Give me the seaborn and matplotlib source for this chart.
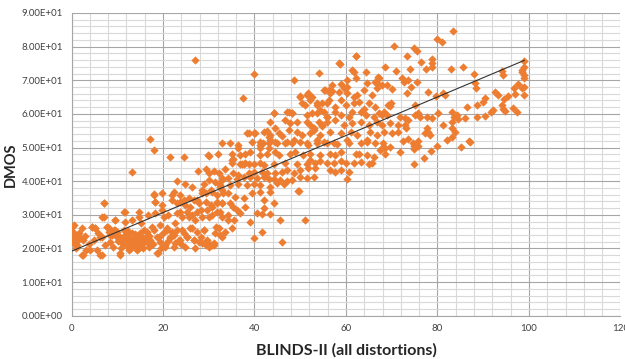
import numpy as np
import pandas as pd
import matplotlib
matplotlib.use("Agg")
import matplotlib.pyplot as plt
from matplotlib.ticker import MultipleLocator, FuncFormatter
import seaborn as sns

# scores, grouped by region (BLINDS-II, DMOS)
pts_low_left = [
    (0.1, 22), (0.5, 24), (0.6, 27), (1.9, 23), (1.0, 21), (2.5, 17.9), (2.3, 26), (3.2, 19.5),
    (4.1, 19.5), (4.5, 26.5), (5.2, 26), (5.6, 19.5), (6.3, 23.5), (6.7, 18), (7.0, 29.4),
    (7.2, 33.4), (7.8, 26.5), (8.1, 25), (8.5, 24), (9.2, 25.5), (9.6, 28.5), (9.9, 23.5),
    (10.7, 18.5), (11.4, 25.5), (11.8, 30.9), (12.1, 23.5), (12.5, 22), (12.9, 20.5),
    (13.2, 24.5), (13.6, 23), (14.0, 21), (14.3, 19.5), (14.7, 29.4), (15.1, 27.5), (15.4, 23.5),
    (15.8, 22), (16.5, 25), (16.9, 20.5), (17.6, 26.5), (18.0, 35.9), (18.3, 33.9), (18.7, 18.5),
    (19.1, 23.5), (19.4, 27), (20.2, 29.4), (20.5, 21), (20.9, 25.5), (21.6, 23.5), (22.0, 35.9),
    (22.4, 20.5), (22.7, 27.5), (23.1, 33.4), (23.4, 22.5), (23.8, 30.9), (24.2, 25.5),
    (24.5, 34.4), (24.9, 20.5), (25.3, 23.5), (25.6, 29.4), (26.0, 32.4), (26.4, 26), (26.7, 22.5),
    (27.1, 28.5), (27.5, 34.4), (27.8, 22), (28.2, 31.4), (28.6, 36.4), (28.9, 25.5), (29.3, 21),
    (29.7, 22), (30.0, 29.4), (30.4, 37.4), (30.8, 32.4), (31.1, 21), (31.5, 26.5), (31.8, 33.4),
    (32.2, 39.3), (0.2, 26.5), (0.3, 21.8), (0.8, 23.5), (1.2, 21), (1.5, 22.5), (2.6, 22.5),
    (4.4, 26.5), (5.2, 26), (5.9, 24.5), (6.6, 23.5), (7.7, 26.5), (8.1, 26), (8.5, 25), (8.8, 24),
    (9.5, 25.5), (10.6, 23.5), (11.4, 22.5), (12.1, 24.5), (12.5, 23), (12.8, 22), (13.2, 21),
    (13.9, 23.5), (14.3, 22.5), (15.0, 24.5), (15.4, 21.5), (16.1, 23), (16.8, 24), (17.2, 22.5),
    (18.0, 25.5), (18.7, 23.5), (19.4, 22), (20.1, 24.5), (20.9, 26), (21.6, 23), (22.3, 24),
    (23.1, 25.5), (23.8, 22.5), (24.5, 24.5), (25.2, 23.5), (26.0, 26), (26.7, 22.5), (27.4, 25),
    (28.2, 23.5), (28.9, 25.5), (29.6, 22.5), (30.7, 21), (31.4, 24.5), (32.2, 26), (32.9, 23.5),
    (2.2, 18), (6.3, 18), (10.6, 18), (12.5, 19.5), (14.7, 20), (19.0, 18.5), (20.5, 20.5),
    (22.7, 21.5), (27.1, 20), (28.5, 21.5), (30.0, 20.5), (31.1, 21.5), (11.0, 21.5),
    (12.0, 21.0), (13.0, 20.0), (14.5, 23.8), (10.2, 22.2), (11.7, 24.0), (15.8, 25.6),
    (0.4, 25.0), (0.9, 20.2), (1.6, 24.6), (3.0, 23.8), (3.8, 21.2), (5.0, 22.4), (7.4, 21.0),
    (8.4, 22.0), (9.0, 20.4), (10.0, 24.8), (10.8, 20.0), (11.2, 23.2), (12.4, 25.2),
    (13.4, 22.2), (13.8, 24.4), (14.2, 20.8), (14.8, 22.0), (15.6, 20.2), (16.4, 21.8),
    (17.0, 23.8), (17.8, 21.2), (19.6, 20.2), (21.2, 22.2), (22.0, 25.0), (24.0, 21.4),
]

pts_mid_left = [
    (6.6, 29.4), (9.5, 28.4), (11.7, 27.9), (13.2, 28.4), (11.5, 30.9), (7.1, 33.4),
    (14.7, 30.9), (16.8, 29.9), (18.3, 30.4), (19.8, 31.4), (21.2, 29.9), (23.1, 30.4),
    (24.1, 29.4), (25.2, 30.9), (26.3, 29.9), (27.4, 30.9), (28.5, 29.4), (29.6, 31.4),
    (30.7, 29.9), (31.8, 30.9), (32.9, 29.4), (18.3, 33.9), (19.8, 32.9), (22.0, 34.4),
    (23.8, 33.9), (24.9, 32.9), (26.7, 34.4), (27.8, 33.4), (29.3, 33.9), (30.4, 32.9),
    (31.8, 33.9), (32.9, 33.4), (18.0, 36.2), (19.8, 36.4), (22.3, 36.9), (23.8, 35.9),
    (25.6, 34.9), (28.5, 37.3), (29.3, 36.4), (30.7, 36.9), (31.8, 35.9), (32.9, 37.3),
    (23.1, 40.1), (24.9, 39.3), (26.3, 38.3), (28.9, 39.3), (30.0, 40.3), (31.4, 39.8),
    (32.5, 38.8), (32.9, 40.8), (27.6, 43.0), (29.3, 43.5), (30.0, 42.5), (31.1, 43.1),
    (32.2, 42.3), (30.1, 47.4), (32.0, 48.0), (29.9, 47.9), (13.2, 42.6), (17.2, 52.4),
    (18.0, 49.4), (21.6, 47.2), (24.5, 47.2),
]

pts_mid_low = [
    (33.0, 51.2), (34.7, 51.4), (36.5, 50.7), (39.4, 51.7), (41.3, 50.7), (43.1, 51.2),
    (44.5, 51.7), (46.7, 51.2), (48.2, 51.4), (50.0, 51.7), (51.8, 50.7), (53.7, 51.2),
    (55.9, 51.4), (58.0, 51.0), (60.6, 51.2), (64.6, 51.7), (66.4, 51.2),
    (35.0, 48.2), (36.9, 47.7), (38.0, 48.2), (39.1, 48.7), (41.3, 47.7), (42.7, 48.2),
    (44.5, 48.7), (45.3, 47.7), (47.8, 48.2), (48.9, 48.7), (50.7, 47.7), (52.2, 48.2),
    (54.4, 47.7), (56.6, 48.2), (57.7, 47.7), (58.8, 48.7), (62.1, 48.2), (62.8, 48.2),
    (64.6, 47.7), (66.1, 47.2),
    (35.0, 46.3), (36.9, 45.1), (37.6, 45.1), (39.8, 45.1), (41.3, 45.3), (42.0, 44.8),
    (44.2, 45.1), (46.7, 45.3), (49.3, 45.1), (51.5, 45.1), (52.2, 46.3), (53.3, 45.3),
    (54.4, 46.1), (55.9, 45.3), (57.3, 45.5), (58.8, 46.1), (59.9, 45.3), (61.7, 45.3),
    (63.2, 45.8), (65.0, 45.1), (65.7, 45.3),
    (33.6, 43.5), (35.4, 42.3), (36.5, 41.8), (38.7, 42.3), (39.8, 42.8), (41.6, 42.8),
    (42.7, 42.3), (44.5, 42.3), (46.0, 42.8), (47.1, 43.3), (48.6, 42.3), (50.0, 43.3),
    (51.8, 43.8), (53.3, 43.8), (56.6, 43.3), (57.7, 42.8), (58.8, 43.3), (60.6, 42.8),
    (32.9, 40.3), (34.3, 40.8), (36.1, 40.5), (37.6, 41.1), (39.1, 41.3), (40.5, 40.8),
    (42.0, 41.3), (43.1, 40.5), (44.2, 40.5), (45.6, 40.3), (47.1, 40.1), (48.2, 40.3),
    (50.0, 41.3), (51.5, 40.8), (52.9, 41.3), (60.2, 40.5),
    (32.5, 38.3), (34.7, 38.8), (36.5, 39.3), (38.3, 38.8), (39.8, 39.3), (41.3, 38.8),
    (43.4, 38.3), (44.9, 39.5), (46.4, 39.3), (49.7, 37.2),
    (33.2, 36.4), (34.3, 36.4), (35.8, 35.4), (37.6, 34.9), (39.4, 36.4), (41.3, 36.9),
    (42.0, 34.4), (43.4, 36.9), (44.2, 33.4),
    (32.9, 33.4), (34.7, 33.4), (35.4, 32.4), (36.1, 31.4), (38.0, 32.4), (42.0, 31.9),
    (40.5, 30.6), (32.5, 30.9), (34.3, 29.9), (36.9, 30.4), (39.1, 27.9), (41.6, 30.2),
    (43.4, 30.2), (45.5, 28.4), (34.1, 28.4), (35.6, 28.6), (51.1, 28.6), (35.0, 26.0),
    (41.6, 24.9), (40.0, 23.2), (46.0, 22.0), (49.5, 37.0), (29.5, 21.5), (30.5, 21.0),
    (32.5, 24.0), (33.5, 25.0), (35.0, 45.4), (35.4, 46.6), (37.2, 45.2), (38.0, 45.4),
    (38.7, 45.2), (36.5, 49.8), (41.9, 51.3), (41.2, 49.8), (43.1, 49.8),
]

pts_mid_high = [
    (37.5, 64.8), (40.0, 72.0), (48.6, 70.0), (54.1, 72.2), (62.1, 77.2), (58.6, 74.8),
    (61.3, 73.2), (61.7, 72.5), (64.3, 72.5), (60.2, 70.1), (62.1, 70.6), (67.2, 70.6),
    (57.0, 68.6), (58.8, 68.8), (60.2, 68.1), (64.6, 69.1), (66.4, 69.6),
    (50.0, 65.1), (51.8, 66.1), (52.6, 65.1), (55.1, 67.1), (56.2, 67.1), (56.6, 66.1),
    (58.4, 66.6), (59.5, 67.6), (60.2, 66.1), (61.7, 65.1), (62.4, 65.6), (63.9, 67.1),
    (65.7, 65.6), (66.8, 67.6),
    (51.1, 62.6), (53.7, 62.6), (54.8, 63.1), (55.9, 63.1), (57.7, 62.1), (58.8, 64.1),
    (59.9, 62.6), (61.7, 63.1), (62.8, 63.6), (63.9, 61.6), (65.0, 63.1), (66.4, 62.1),
    (44.2, 60.2), (47.5, 60.7), (48.2, 60.2), (51.5, 59.7), (53.7, 60.2), (55.1, 60.7),
    (55.9, 59.2), (57.7, 60.7), (58.8, 59.7), (60.6, 59.2), (61.3, 60.5), (63.2, 60.7),
    (64.3, 59.7), (66.1, 59.2), (67.2, 60.2),
    (43.4, 57.7), (46.7, 58.2), (47.8, 57.2), (49.3, 57.7), (51.5, 57.7), (52.2, 56.7),
    (54.0, 57.7), (54.8, 56.7), (55.9, 57.7), (57.7, 58.2), (59.5, 56.7), (61.3, 57.2),
    (63.2, 57.7), (65.0, 56.7), (66.8, 57.7),
    (38.3, 54.2), (39.8, 54.2), (42.0, 54.7), (43.1, 53.2), (45.3, 54.2), (47.5, 55.2),
    (49.3, 54.7), (50.4, 53.7), (52.2, 54.2), (52.9, 55.2), (54.4, 53.7), (56.6, 54.7),
    (58.8, 54.2), (61.0, 54.7), (62.4, 53.7), (65.3, 54.7), (66.8, 53.7),
    (41.3, 51.7), (43.4, 52.2), (44.9, 51.2), (47.1, 51.7), (48.6, 52.2), (51.5, 51.2),
    (53.7, 52.2), (55.1, 51.7), (57.3, 51.2), (60.2, 52.2), (63.2, 51.2), (64.6, 52.2),
    (38.7, 54.3), (40.1, 54.3), (44.2, 60.2), (47.1, 60.7), (48.2, 60.2), (42.7, 54.8),
    (43.4, 53.8), (44.5, 55.8), (46.0, 53.3), (50.0, 65.2), (51.5, 65.7), (50.4, 63.2),
    (52.2, 64.2), (53.6, 63.2), (55.5, 67.2), (56.9, 66.7), (56.2, 64.2), (54.4, 61.2),
    (52.6, 60.2), (55.8, 59.2), (54.7, 56.3), (52.9, 55.8), (58.4, 75.1), (62.2, 77.1),
    (27.1, 75.9),
]

pts_right = [
    (83.4, 84.7), (80.0, 82.3), (81.0, 81.3), (70.5, 80.2), (74.9, 79.7), (75.5, 78.7),
    (73.4, 77.2), (76.5, 75.3), (78.7, 76.2), (78.7, 75.0), (78.7, 74.0), (68.5, 74.0),
    (71.0, 72.9), (74.0, 73.3), (77.5, 73.3), (83.0, 73.4), (85.5, 74.0), (88.0, 71.8),
    (67.0, 71.0), (66.7, 69.1), (67.8, 68.6), (68.9, 68.6), (70.0, 67.4), (72.2, 70.6),
    (72.7, 69.6), (73.6, 70.1), (74.2, 68.1), (75.5, 69.6), (73.4, 66.3), (78.0, 66.6),
    (79.6, 65.4), (81.3, 66.1), (81.6, 65.6), (88.2, 69.1), (88.4, 67.8), (94.0, 72.8),
    (94.4, 71.6), (98.8, 75.7), (98.9, 74.0), (98.4, 72.5), (98.8, 70.6), (99.0, 68.1),
    (98.4, 67.6), (98.9, 65.6), (96.8, 67.6), (96.9, 65.8), (95.5, 65.4), (94.6, 64.4),
    (93.3, 65.6), (94.0, 62.6), (94.4, 61.5), (94.8, 60.9), (96.6, 61.7), (97.3, 60.7),
    (90.4, 64.6), (90.0, 63.6), (88.6, 62.7), (92.2, 61.2), (91.8, 60.5), (90.4, 59.5),
    (88.6, 59.2), (69.8, 63.2), (69.6, 62.2), (69.2, 62.6), (75.1, 62.6), (68.2, 60.7),
    (68.9, 59.7), (67.8, 59.7), (71.8, 59.2), (72.9, 58.7), (73.6, 58.2), (75.1, 59.7),
    (75.8, 60.2), (76.2, 59.2), (77.6, 59.2), (78.7, 58.7), (80.2, 60.2), (83.1, 60.5),
    (83.5, 59.2), (84.2, 59.7), (84.5, 58.5), (83.2, 57.7), (86.0, 58.7), (67.8, 56.7),
    (69.6, 57.2), (71.4, 56.7), (72.9, 56.7), (73.2, 55.7), (71.4, 54.7), (70.0, 54.2),
    (68.2, 54.7), (77.6, 55.7), (78.0, 54.7), (78.4, 53.7), (77.3, 54.2), (81.3, 56.7),
    (83.1, 55.7), (83.8, 54.7), (83.1, 53.2), (82.0, 52.2), (86.8, 51.8), (75.8, 51.8),
    (73.6, 52.5), (72.5, 52.0), (74.7, 51.3), (68.0, 51.3), (68.5, 49.8), (67.8, 49.8),
    (69.6, 50.3), (68.5, 48.1), (67.5, 49.3), (71.8, 48.8), (74.9, 50.5), (75.8, 50.5),
    (74.9, 49.5), (74.9, 45.1), (77.0, 47.0), (78.5, 49.0), (80.0, 50.5), (85.1, 50.1),
    (87.1, 51.6), (98.5, 73.2), (99.0, 71.5), (97.5, 69.0), (92.5, 66.5), (86.5, 62.0),
]

score_x = [p[0] for pts in (pts_low_left, pts_mid_left, pts_mid_low, pts_mid_high, pts_right) for p in pts]
dmos_y = [p[1] for pts in (pts_low_left, pts_mid_left, pts_mid_low, pts_mid_high, pts_right) for p in pts]
df = pd.DataFrame({"blinds": score_x, "dmos": dmos_y})

sns.set_style("white")
plt.rcParams["font.family"] = ["Lato", "DejaVu Sans"]

fig = plt.figure(figsize=(6.25, 3.59), dpi=100)
ax = fig.add_axes([0.1144, 0.1206, 0.8784, 0.8432])

sns.scatterplot(data=df, x="blinds", y="dmos", ax=ax, marker="D", s=18,
                color="#ED7D31", linewidth=0, zorder=3)
sns.regplot(data=df, x="blinds", y="dmos", ax=ax, scatter=False, ci=None, truncate=True,
            line_kws={"color": "#333333", "lw": 0.8, "zorder": 4})

ax.set_xlim(0, 120)
ax.set_ylim(0, 90)
ax.xaxis.set_major_locator(MultipleLocator(20))
ax.xaxis.set_minor_locator(MultipleLocator(4))
ax.yaxis.set_major_locator(MultipleLocator(10))
ax.yaxis.set_minor_locator(MultipleLocator(2))
ax.yaxis.set_major_formatter(FuncFormatter(lambda v, p: f"{v:.2E}"))

ax.set_axisbelow(True)
ax.grid(which="major", color="#a6a6a6", lw=0.8)
ax.grid(which="minor", color="#d9d9d9", lw=0.8)
for s in ["top", "right"]:
    ax.spines[s].set_visible(False)
for s in ["left", "bottom"]:
    ax.spines[s].set_color("#a6a6a6")
    ax.spines[s].set_linewidth(0.8)

ax.tick_params(which="major", length=4, width=0.8, color="#a6a6a6",
               labelsize=7, labelcolor="#404040", pad=2)
ax.tick_params(which="minor", length=0)

ax.set_xlabel("BLINDS-II (all distortions)", fontsize=11.5, fontweight="bold", labelpad=7)
ax.set_ylabel("DMOS", fontsize=10.5, fontweight="bold", labelpad=3)

fig.savefig("out.png", dpi=100)
